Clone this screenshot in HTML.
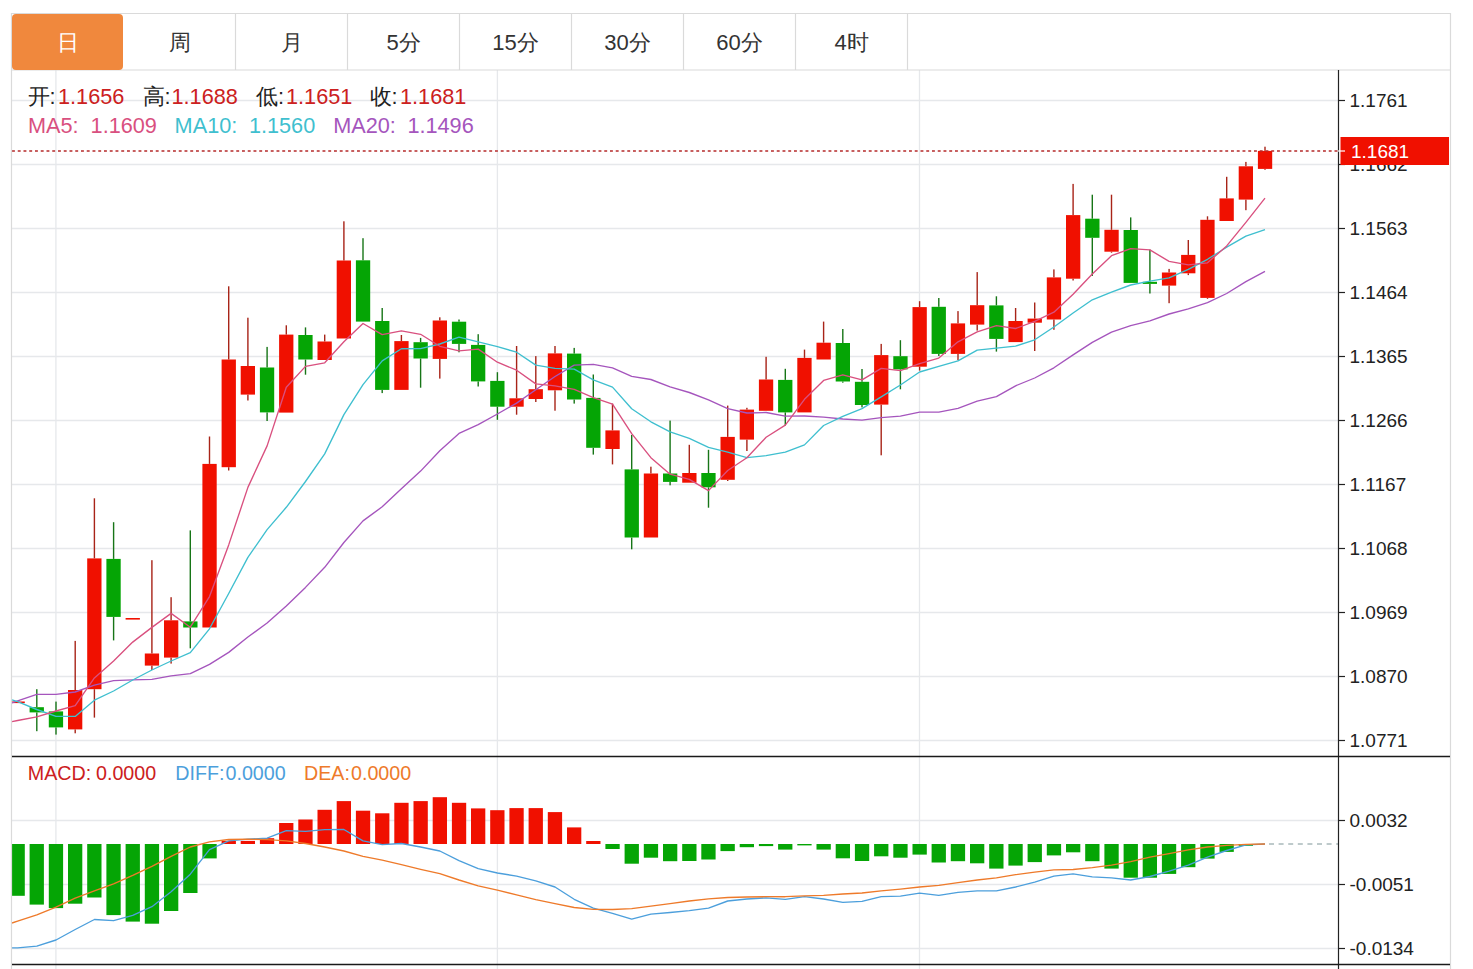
<!DOCTYPE html>
<html><head><meta charset="utf-8"><title>K</title>
<style>
html,body{margin:0;padding:0;background:#fff;width:1473px;height:969px;overflow:hidden}
svg{display:block;font-family:"Liberation Sans", sans-serif}
text{white-space:pre}
</style></head><body>
<svg width="1473" height="969" viewBox="0 0 1473 969">
<line x1="12" y1="100.5" x2="1338" y2="100.5" stroke="#e6e8eb" stroke-width="1.3"/>
<line x1="12" y1="164.5" x2="1338" y2="164.5" stroke="#e6e8eb" stroke-width="1.3"/>
<line x1="12" y1="228.5" x2="1338" y2="228.5" stroke="#e6e8eb" stroke-width="1.3"/>
<line x1="12" y1="292.5" x2="1338" y2="292.5" stroke="#e6e8eb" stroke-width="1.3"/>
<line x1="12" y1="356.5" x2="1338" y2="356.5" stroke="#e6e8eb" stroke-width="1.3"/>
<line x1="12" y1="420.5" x2="1338" y2="420.5" stroke="#e6e8eb" stroke-width="1.3"/>
<line x1="12" y1="484.5" x2="1338" y2="484.5" stroke="#e6e8eb" stroke-width="1.3"/>
<line x1="12" y1="548.5" x2="1338" y2="548.5" stroke="#e6e8eb" stroke-width="1.3"/>
<line x1="12" y1="612.5" x2="1338" y2="612.5" stroke="#e6e8eb" stroke-width="1.3"/>
<line x1="12" y1="676.5" x2="1338" y2="676.5" stroke="#e6e8eb" stroke-width="1.3"/>
<line x1="12" y1="740.5" x2="1338" y2="740.5" stroke="#e6e8eb" stroke-width="1.3"/>
<line x1="12" y1="820.5" x2="1338" y2="820.5" stroke="#e6e8eb" stroke-width="1.3"/>
<line x1="12" y1="884.5" x2="1338" y2="884.5" stroke="#e6e8eb" stroke-width="1.3"/>
<line x1="12" y1="948.5" x2="1338" y2="948.5" stroke="#e6e8eb" stroke-width="1.3"/>
<line x1="55.9" y1="70" x2="55.9" y2="969" stroke="#e6e8eb" stroke-width="1.3"/>
<line x1="497.4" y1="70" x2="497.4" y2="969" stroke="#e6e8eb" stroke-width="1.3"/>
<line x1="919.5" y1="70" x2="919.5" y2="969" stroke="#e6e8eb" stroke-width="1.3"/>
<rect x="12" y="701.5" width="12.8" height="1.6" fill="#f01000"/>
<rect x="36.1" y="689.2" width="1.4" height="18" fill="#177517"/>
<rect x="36.1" y="712.4" width="1.4" height="18.8" fill="#177517"/>
<rect x="29.6" y="707.2" width="14.3" height="5.2" fill="#05a505"/>
<rect x="55.3" y="701.6" width="1.4" height="9.8" fill="#177517"/>
<rect x="55.3" y="727.4" width="1.4" height="7.2" fill="#177517"/>
<rect x="48.8" y="711.4" width="14.3" height="16" fill="#05a505"/>
<rect x="74.5" y="640.9" width="1.4" height="49.1" fill="#a82418"/>
<rect x="74.5" y="729.4" width="1.4" height="3.9" fill="#a82418"/>
<rect x="68" y="690" width="14.3" height="39.4" fill="#f01000"/>
<rect x="93.7" y="498.3" width="1.4" height="60.1" fill="#a82418"/>
<rect x="93.7" y="689.2" width="1.4" height="28.4" fill="#a82418"/>
<rect x="87.2" y="558.4" width="14.3" height="130.8" fill="#f01000"/>
<rect x="112.9" y="522.2" width="1.4" height="36.7" fill="#177517"/>
<rect x="112.9" y="616.9" width="1.4" height="23.5" fill="#177517"/>
<rect x="106.4" y="558.9" width="14.3" height="58" fill="#05a505"/>
<rect x="125.6" y="618" width="14.3" height="1.6" fill="#f01000"/>
<rect x="151.2" y="560.2" width="1.4" height="93.3" fill="#a82418"/>
<rect x="151.2" y="665.6" width="1.4" height="4.4" fill="#a82418"/>
<rect x="144.8" y="653.5" width="14.3" height="12.1" fill="#f01000"/>
<rect x="170.4" y="597.2" width="1.4" height="23.1" fill="#a82418"/>
<rect x="170.4" y="657.6" width="1.4" height="6" fill="#a82418"/>
<rect x="164" y="620.3" width="14.3" height="37.3" fill="#f01000"/>
<rect x="189.6" y="530.4" width="1.4" height="91" fill="#177517"/>
<rect x="189.6" y="627.5" width="1.4" height="20.8" fill="#177517"/>
<rect x="183.2" y="621.4" width="14.3" height="6.1" fill="#05a505"/>
<rect x="208.8" y="436.5" width="1.4" height="27.4" fill="#a82418"/>
<rect x="202.4" y="463.9" width="14.3" height="163.6" fill="#f01000"/>
<rect x="228" y="286.3" width="1.4" height="73.2" fill="#a82418"/>
<rect x="228" y="467.2" width="1.4" height="3.3" fill="#a82418"/>
<rect x="221.6" y="359.5" width="14.3" height="107.7" fill="#f01000"/>
<rect x="247.2" y="317.7" width="1.4" height="48.3" fill="#a82418"/>
<rect x="247.2" y="394.6" width="1.4" height="5.9" fill="#a82418"/>
<rect x="240.7" y="366" width="14.3" height="28.6" fill="#f01000"/>
<rect x="266.4" y="346.9" width="1.4" height="20.6" fill="#177517"/>
<rect x="266.4" y="412.4" width="1.4" height="8.6" fill="#177517"/>
<rect x="259.9" y="367.5" width="14.3" height="44.9" fill="#05a505"/>
<rect x="285.6" y="325.3" width="1.4" height="9.3" fill="#a82418"/>
<rect x="279.1" y="334.6" width="14.3" height="78" fill="#f01000"/>
<rect x="304.8" y="327.4" width="1.4" height="7.6" fill="#177517"/>
<rect x="304.8" y="359.5" width="1.4" height="15.2" fill="#177517"/>
<rect x="298.3" y="335" width="14.3" height="24.5" fill="#05a505"/>
<rect x="324" y="334.6" width="1.4" height="6.9" fill="#a82418"/>
<rect x="317.5" y="341.5" width="14.3" height="18.5" fill="#f01000"/>
<rect x="343.2" y="221.3" width="1.4" height="39.2" fill="#a82418"/>
<rect x="336.7" y="260.5" width="14.3" height="78" fill="#f01000"/>
<rect x="362.3" y="238.2" width="1.4" height="22.1" fill="#177517"/>
<rect x="355.9" y="260.3" width="14.3" height="61.3" fill="#05a505"/>
<rect x="381.5" y="308" width="1.4" height="13" fill="#177517"/>
<rect x="381.5" y="389.9" width="1.4" height="3.2" fill="#177517"/>
<rect x="375.1" y="321" width="14.3" height="68.9" fill="#05a505"/>
<rect x="400.7" y="335" width="1.4" height="6.1" fill="#a82418"/>
<rect x="394.3" y="341.1" width="14.3" height="48.8" fill="#f01000"/>
<rect x="419.9" y="337.9" width="1.4" height="4.3" fill="#177517"/>
<rect x="419.9" y="358.5" width="1.4" height="29.2" fill="#177517"/>
<rect x="413.5" y="342.2" width="14.3" height="16.3" fill="#05a505"/>
<rect x="439.1" y="317.3" width="1.4" height="3.2" fill="#a82418"/>
<rect x="439.1" y="358.9" width="1.4" height="19.7" fill="#a82418"/>
<rect x="432.7" y="320.5" width="14.3" height="38.4" fill="#f01000"/>
<rect x="458.3" y="319.5" width="1.4" height="2.2" fill="#177517"/>
<rect x="458.3" y="343.9" width="1.4" height="8.4" fill="#177517"/>
<rect x="451.9" y="321.7" width="14.3" height="22.2" fill="#05a505"/>
<rect x="477.5" y="334.2" width="1.4" height="10.7" fill="#177517"/>
<rect x="477.5" y="381.4" width="1.4" height="5.1" fill="#177517"/>
<rect x="471" y="344.9" width="14.3" height="36.5" fill="#05a505"/>
<rect x="496.7" y="372.2" width="1.4" height="8.7" fill="#177517"/>
<rect x="496.7" y="406.7" width="1.4" height="13.1" fill="#177517"/>
<rect x="490.2" y="380.9" width="14.3" height="25.8" fill="#05a505"/>
<rect x="515.9" y="346" width="1.4" height="52.3" fill="#a82418"/>
<rect x="515.9" y="406.7" width="1.4" height="8" fill="#a82418"/>
<rect x="509.4" y="398.3" width="14.3" height="8.4" fill="#f01000"/>
<rect x="535.1" y="356.1" width="1.4" height="33.1" fill="#a82418"/>
<rect x="535.1" y="399" width="1.4" height="3" fill="#a82418"/>
<rect x="528.6" y="389.2" width="14.3" height="9.8" fill="#f01000"/>
<rect x="554.3" y="346" width="1.4" height="7.4" fill="#a82418"/>
<rect x="554.3" y="390.3" width="1.4" height="20.4" fill="#a82418"/>
<rect x="547.8" y="353.4" width="14.3" height="36.9" fill="#f01000"/>
<rect x="573.5" y="347.9" width="1.4" height="5.7" fill="#177517"/>
<rect x="573.5" y="399.5" width="1.4" height="4.1" fill="#177517"/>
<rect x="567" y="353.6" width="14.3" height="45.9" fill="#05a505"/>
<rect x="592.6" y="374.5" width="1.4" height="23.4" fill="#177517"/>
<rect x="592.6" y="447.8" width="1.4" height="6.8" fill="#177517"/>
<rect x="586.2" y="397.9" width="14.3" height="49.9" fill="#05a505"/>
<rect x="611.8" y="403.6" width="1.4" height="26.8" fill="#a82418"/>
<rect x="611.8" y="449" width="1.4" height="15.4" fill="#a82418"/>
<rect x="605.4" y="430.4" width="14.3" height="18.6" fill="#f01000"/>
<rect x="631" y="434.9" width="1.4" height="34.5" fill="#177517"/>
<rect x="631" y="537.5" width="1.4" height="11.8" fill="#177517"/>
<rect x="624.6" y="469.4" width="14.3" height="68.1" fill="#05a505"/>
<rect x="650.2" y="466.7" width="1.4" height="6.8" fill="#a82418"/>
<rect x="643.8" y="473.5" width="14.3" height="64" fill="#f01000"/>
<rect x="669.4" y="420.6" width="1.4" height="52.9" fill="#177517"/>
<rect x="669.4" y="481.9" width="1.4" height="3.4" fill="#177517"/>
<rect x="663" y="473.5" width="14.3" height="8.4" fill="#05a505"/>
<rect x="688.6" y="444.8" width="1.4" height="28.2" fill="#a82418"/>
<rect x="682.2" y="473" width="14.3" height="9.7" fill="#f01000"/>
<rect x="707.8" y="449.8" width="1.4" height="23.2" fill="#177517"/>
<rect x="707.8" y="487.3" width="1.4" height="20.4" fill="#177517"/>
<rect x="701.3" y="473" width="14.3" height="14.3" fill="#05a505"/>
<rect x="727" y="405.6" width="1.4" height="31.3" fill="#a82418"/>
<rect x="727" y="479.8" width="1.4" height="1.2" fill="#a82418"/>
<rect x="720.5" y="436.9" width="14.3" height="42.9" fill="#f01000"/>
<rect x="746.2" y="407.8" width="1.4" height="1.8" fill="#a82418"/>
<rect x="746.2" y="439.6" width="1.4" height="11.4" fill="#a82418"/>
<rect x="739.7" y="409.6" width="14.3" height="30" fill="#f01000"/>
<rect x="765.4" y="356.8" width="1.4" height="22.7" fill="#a82418"/>
<rect x="758.9" y="379.5" width="14.3" height="31.3" fill="#f01000"/>
<rect x="784.6" y="368.8" width="1.4" height="11.1" fill="#177517"/>
<rect x="784.6" y="412.4" width="1.4" height="13.1" fill="#177517"/>
<rect x="778.1" y="379.9" width="14.3" height="32.5" fill="#05a505"/>
<rect x="803.8" y="349.6" width="1.4" height="8.3" fill="#a82418"/>
<rect x="797.3" y="357.9" width="14.3" height="54.5" fill="#f01000"/>
<rect x="822.9" y="321.6" width="1.4" height="21.1" fill="#a82418"/>
<rect x="816.5" y="342.7" width="14.3" height="16.8" fill="#f01000"/>
<rect x="842.1" y="329" width="1.4" height="14" fill="#177517"/>
<rect x="842.1" y="381.5" width="1.4" height="1.2" fill="#177517"/>
<rect x="835.7" y="343" width="14.3" height="38.5" fill="#05a505"/>
<rect x="861.3" y="369" width="1.4" height="12.8" fill="#177517"/>
<rect x="861.3" y="405" width="1.4" height="2.4" fill="#177517"/>
<rect x="854.9" y="381.8" width="14.3" height="23.2" fill="#05a505"/>
<rect x="880.5" y="343.9" width="1.4" height="11.2" fill="#a82418"/>
<rect x="880.5" y="404.6" width="1.4" height="50.7" fill="#a82418"/>
<rect x="874.1" y="355.1" width="14.3" height="49.5" fill="#f01000"/>
<rect x="899.7" y="340.2" width="1.4" height="16" fill="#177517"/>
<rect x="899.7" y="369.4" width="1.4" height="19.9" fill="#177517"/>
<rect x="893.3" y="356.2" width="14.3" height="13.2" fill="#05a505"/>
<rect x="918.9" y="301.2" width="1.4" height="5.9" fill="#a82418"/>
<rect x="918.9" y="366.7" width="1.4" height="3.9" fill="#a82418"/>
<rect x="912.5" y="307.1" width="14.3" height="59.6" fill="#f01000"/>
<rect x="938.1" y="298" width="1.4" height="8.8" fill="#177517"/>
<rect x="938.1" y="353.9" width="1.4" height="2.1" fill="#177517"/>
<rect x="931.6" y="306.8" width="14.3" height="47.1" fill="#05a505"/>
<rect x="957.3" y="311.1" width="1.4" height="12.3" fill="#a82418"/>
<rect x="957.3" y="353.9" width="1.4" height="6.4" fill="#a82418"/>
<rect x="950.8" y="323.4" width="14.3" height="30.5" fill="#f01000"/>
<rect x="976.5" y="272.1" width="1.4" height="33.1" fill="#a82418"/>
<rect x="976.5" y="324.6" width="1.4" height="6" fill="#a82418"/>
<rect x="970" y="305.2" width="14.3" height="19.4" fill="#f01000"/>
<rect x="995.7" y="296.3" width="1.4" height="9.1" fill="#177517"/>
<rect x="995.7" y="338.9" width="1.4" height="12.7" fill="#177517"/>
<rect x="989.2" y="305.4" width="14.3" height="33.5" fill="#05a505"/>
<rect x="1014.9" y="308" width="1.4" height="13" fill="#a82418"/>
<rect x="1008.4" y="321" width="14.3" height="21.1" fill="#f01000"/>
<rect x="1034" y="302.5" width="1.4" height="16.1" fill="#a82418"/>
<rect x="1034" y="322.7" width="1.4" height="28.3" fill="#a82418"/>
<rect x="1027.6" y="318.6" width="14.3" height="4.1" fill="#f01000"/>
<rect x="1053.2" y="269.4" width="1.4" height="8" fill="#a82418"/>
<rect x="1053.2" y="319.5" width="1.4" height="10.3" fill="#a82418"/>
<rect x="1046.8" y="277.4" width="14.3" height="42.1" fill="#f01000"/>
<rect x="1072.4" y="183.9" width="1.4" height="31.2" fill="#a82418"/>
<rect x="1072.4" y="278.7" width="1.4" height="1.8" fill="#a82418"/>
<rect x="1066" y="215.1" width="14.3" height="63.6" fill="#f01000"/>
<rect x="1091.6" y="194.7" width="1.4" height="24" fill="#177517"/>
<rect x="1091.6" y="237.8" width="1.4" height="38.1" fill="#177517"/>
<rect x="1085.2" y="218.7" width="14.3" height="19.1" fill="#05a505"/>
<rect x="1110.8" y="194.7" width="1.4" height="35.1" fill="#a82418"/>
<rect x="1110.8" y="251.7" width="1.4" height="1" fill="#a82418"/>
<rect x="1104.4" y="229.8" width="14.3" height="21.9" fill="#f01000"/>
<rect x="1130" y="217.4" width="1.4" height="12.6" fill="#177517"/>
<rect x="1123.6" y="230" width="14.3" height="52.9" fill="#05a505"/>
<rect x="1149.2" y="249.6" width="1.4" height="32.2" fill="#177517"/>
<rect x="1149.2" y="283.9" width="1.4" height="9.6" fill="#177517"/>
<rect x="1142.7" y="281.8" width="14.3" height="2.1" fill="#05a505"/>
<rect x="1168.4" y="268.9" width="1.4" height="3.6" fill="#a82418"/>
<rect x="1168.4" y="285.6" width="1.4" height="17.6" fill="#a82418"/>
<rect x="1161.9" y="272.5" width="14.3" height="13.1" fill="#f01000"/>
<rect x="1187.6" y="240" width="1.4" height="14.9" fill="#a82418"/>
<rect x="1187.6" y="273.3" width="1.4" height="1.8" fill="#a82418"/>
<rect x="1181.1" y="254.9" width="14.3" height="18.4" fill="#f01000"/>
<rect x="1206.8" y="216.3" width="1.4" height="3.5" fill="#a82418"/>
<rect x="1206.8" y="297.9" width="1.4" height="0.9" fill="#a82418"/>
<rect x="1200.3" y="219.8" width="14.3" height="78.1" fill="#f01000"/>
<rect x="1226" y="176.8" width="1.4" height="21.6" fill="#a82418"/>
<rect x="1219.5" y="198.4" width="14.3" height="22.6" fill="#f01000"/>
<rect x="1245.2" y="161.9" width="1.4" height="4.4" fill="#a82418"/>
<rect x="1245.2" y="199.6" width="1.4" height="10.6" fill="#a82418"/>
<rect x="1238.7" y="166.3" width="14.3" height="33.3" fill="#f01000"/>
<rect x="1264.3" y="146.7" width="1.4" height="4.2" fill="#a82418"/>
<rect x="1264.3" y="168.9" width="1.4" height="0.9" fill="#a82418"/>
<rect x="1257.9" y="150.9" width="14.3" height="18" fill="#f01000"/>
<polyline points="12,702.9 17.6,700.9 36.8,694.4 56,694.4 75.2,692 94.4,685.1 113.6,680.7 132.7,679.9 151.9,679.3 171.1,675.8 190.3,673.7 209.5,664.4 228.7,652.4 247.9,637 267.1,623 286.3,606 305.5,587.4 324.7,567.3 343.9,542.5 363,520.9 382.2,506.8 401.4,488.7 420.6,471.1 439.8,450.7 459,433.4 478.2,424.6 497.4,414 516.6,403.1 535.8,389.8 555,376.5 574.2,365.1 593.3,364.3 612.5,367.8 631.7,376.4 650.9,379.5 670.1,386.8 689.3,392.5 708.5,399.8 727.7,408.6 746.9,413 766.1,412.5 785.3,416.1 804.5,416 823.6,417.1 842.8,419 862,420.2 881.2,417.6 900.4,416.2 919.6,412.1 938.8,412.1 958,408.3 977.2,401.2 996.4,396.6 1015.6,385.8 1034.7,378 1053.9,367.8 1073.1,354.9 1092.3,342.4 1111.5,332.1 1130.7,325.7 1149.9,320.9 1169.1,314 1188.3,308.8 1207.5,302.7 1226.7,293.5 1245.9,281.6 1265,271.4" fill="none" stroke="#a555bd" stroke-width="1.35" stroke-linejoin="round"/>
<polyline points="12,699.8 17.6,701.7 36.8,709.5 56,716.4 75.2,716.4 94.4,700.2 113.6,691 132.7,680 151.9,670 171.1,661 190.3,652.6 209.5,628.8 228.7,593.5 247.9,557.4 267.1,529.6 286.3,507.3 305.5,481.5 324.7,453.9 343.9,414.6 363,384.7 382.2,360.9 401.4,348.7 420.6,348.6 439.8,344 459,337.2 478.2,341.8 497.4,346.6 516.6,352.2 535.8,365.1 555,368.3 574.2,369.2 593.3,379.9 612.5,387.1 631.7,408.8 650.9,421.8 670.1,431.8 689.3,438.4 708.5,447.4 727.7,452.1 746.9,457.7 766.1,455.7 785.3,452.2 804.5,444.9 823.6,425.5 842.8,416.3 862,408.6 881.2,396.8 900.4,385 919.6,372 938.8,366.4 958,360.8 977.2,350.1 996.4,348.2 1015.6,346.1 1034.7,339.8 1053.9,327 1073.1,313 1092.3,299.8 1111.5,292.1 1130.7,285 1149.9,281.1 1169.1,277.8 1188.3,269.4 1207.5,259.3 1226.7,247.2 1245.9,236.1 1265,229.7" fill="none" stroke="#3fbfcf" stroke-width="1.35" stroke-linejoin="round"/>
<polyline points="12,721.7 17.6,720.5 36.8,716.8 56,711 75.2,705.6 94.4,677.9 113.6,661 132.7,642.1 151.9,627.4 171.1,613.4 190.3,627.2 209.5,596.6 228.7,544.9 247.9,487.4 267.1,445.9 286.3,387.3 305.5,366.4 324.7,362.8 343.9,341.7 363,323.5 382.2,334.6 401.4,330.9 420.6,334.3 439.8,346.3 459,350.8 478.2,349.1 497.4,362.2 516.6,370.2 535.8,383.9 555,385.8 574.2,389.4 593.3,397.6 612.5,404.1 631.7,433.7 650.9,457.7 670.1,474.2 689.3,479.3 708.5,490.6 727.7,470.5 746.9,457.7 766.1,437.3 785.3,425.1 804.5,399.3 823.6,380.4 842.8,374.8 862,379.9 881.2,368.4 900.4,370.7 919.6,363.6 938.8,358.1 958,341.8 977.2,331.8 996.4,325.7 1015.6,328.5 1034.7,321.4 1053.9,312.2 1073.1,294.2 1092.3,274 1111.5,255.7 1130.7,248.6 1149.9,249.9 1169.1,261.4 1188.3,264.8 1207.5,262.8 1226.7,245.9 1245.9,222.4 1265,198.1" fill="none" stroke="#d9507f" stroke-width="1.35" stroke-linejoin="round"/>
<line x1="12" y1="151" x2="1338" y2="151" stroke="#b52a2a" stroke-width="1.6" stroke-dasharray="2.9 2.85"/>
<rect x="12" y="844" width="12.8" height="51.8" fill="#05a505"/>
<rect x="29.6" y="844" width="14.3" height="60.6" fill="#05a505"/>
<rect x="48.8" y="844" width="14.3" height="64.1" fill="#05a505"/>
<rect x="68" y="844" width="14.3" height="59.7" fill="#05a505"/>
<rect x="87.2" y="844" width="14.3" height="53.5" fill="#05a505"/>
<rect x="106.4" y="844" width="14.3" height="71.1" fill="#05a505"/>
<rect x="125.6" y="844" width="14.3" height="77.6" fill="#05a505"/>
<rect x="144.8" y="844" width="14.3" height="79.7" fill="#05a505"/>
<rect x="164" y="844" width="14.3" height="67" fill="#05a505"/>
<rect x="183.2" y="844" width="14.3" height="49" fill="#05a505"/>
<rect x="202.4" y="844" width="14.3" height="14.4" fill="#05a505"/>
<rect x="221.6" y="840.9" width="14.3" height="3.1" fill="#f01000"/>
<rect x="240.7" y="840.9" width="14.3" height="3.1" fill="#f01000"/>
<rect x="259.9" y="838.2" width="14.3" height="5.8" fill="#f01000"/>
<rect x="279.1" y="823" width="14.3" height="21" fill="#f01000"/>
<rect x="298.3" y="819.5" width="14.3" height="24.5" fill="#f01000"/>
<rect x="317.5" y="809.8" width="14.3" height="34.2" fill="#f01000"/>
<rect x="336.7" y="801.1" width="14.3" height="42.9" fill="#f01000"/>
<rect x="355.9" y="810.7" width="14.3" height="33.3" fill="#f01000"/>
<rect x="375.1" y="813.3" width="14.3" height="30.7" fill="#f01000"/>
<rect x="394.3" y="802.8" width="14.3" height="41.2" fill="#f01000"/>
<rect x="413.5" y="801.1" width="14.3" height="42.9" fill="#f01000"/>
<rect x="432.7" y="797.2" width="14.3" height="46.8" fill="#f01000"/>
<rect x="451.9" y="802.8" width="14.3" height="41.2" fill="#f01000"/>
<rect x="471" y="808.4" width="14.3" height="35.6" fill="#f01000"/>
<rect x="490.2" y="810.2" width="14.3" height="33.8" fill="#f01000"/>
<rect x="509.4" y="808.1" width="14.3" height="35.9" fill="#f01000"/>
<rect x="528.6" y="808.1" width="14.3" height="35.9" fill="#f01000"/>
<rect x="547.8" y="812.1" width="14.3" height="31.9" fill="#f01000"/>
<rect x="567" y="827.4" width="14.3" height="16.6" fill="#f01000"/>
<rect x="586.2" y="841" width="14.3" height="3" fill="#f01000"/>
<rect x="605.4" y="844" width="14.3" height="5" fill="#05a505"/>
<rect x="624.6" y="844" width="14.3" height="19.7" fill="#05a505"/>
<rect x="643.8" y="844" width="14.3" height="13.7" fill="#05a505"/>
<rect x="663" y="844" width="14.3" height="17.2" fill="#05a505"/>
<rect x="682.2" y="844" width="14.3" height="17" fill="#05a505"/>
<rect x="701.3" y="844" width="14.3" height="15.5" fill="#05a505"/>
<rect x="720.5" y="844" width="14.3" height="7.1" fill="#05a505"/>
<rect x="739.7" y="844" width="14.3" height="3.2" fill="#05a505"/>
<rect x="758.9" y="844" width="14.3" height="2.1" fill="#05a505"/>
<rect x="778.1" y="844" width="14.3" height="5.6" fill="#05a505"/>
<rect x="797.3" y="844" width="14.3" height="1.4" fill="#05a505"/>
<rect x="816.5" y="844" width="14.3" height="5.6" fill="#05a505"/>
<rect x="835.7" y="844" width="14.3" height="14.3" fill="#05a505"/>
<rect x="854.9" y="844" width="14.3" height="17" fill="#05a505"/>
<rect x="874.1" y="844" width="14.3" height="12.3" fill="#05a505"/>
<rect x="893.3" y="844" width="14.3" height="13.7" fill="#05a505"/>
<rect x="912.5" y="844" width="14.3" height="10.6" fill="#05a505"/>
<rect x="931.6" y="844" width="14.3" height="18.5" fill="#05a505"/>
<rect x="950.8" y="844" width="14.3" height="17.2" fill="#05a505"/>
<rect x="970" y="844" width="14.3" height="19.3" fill="#05a505"/>
<rect x="989.2" y="844" width="14.3" height="24.6" fill="#05a505"/>
<rect x="1008.4" y="844" width="14.3" height="21.6" fill="#05a505"/>
<rect x="1027.6" y="844" width="14.3" height="18.1" fill="#05a505"/>
<rect x="1046.8" y="844" width="14.3" height="11.4" fill="#05a505"/>
<rect x="1066" y="844" width="14.3" height="8.3" fill="#05a505"/>
<rect x="1085.2" y="844" width="14.3" height="17.2" fill="#05a505"/>
<rect x="1104.4" y="844" width="14.3" height="24.6" fill="#05a505"/>
<rect x="1123.6" y="844" width="14.3" height="33.7" fill="#05a505"/>
<rect x="1142.7" y="844" width="14.3" height="33.7" fill="#05a505"/>
<rect x="1161.9" y="844" width="14.3" height="29.9" fill="#05a505"/>
<rect x="1181.1" y="844" width="14.3" height="23.2" fill="#05a505"/>
<rect x="1200.3" y="844" width="14.3" height="14.6" fill="#05a505"/>
<rect x="1219.5" y="844" width="14.3" height="7.9" fill="#05a505"/>
<rect x="1238.7" y="844" width="14.3" height="1.8" fill="#05a505"/>
<polyline points="12,947.9 17.6,947.9 36.8,946.1 56,940 75.2,929.5 94.4,919.5 113.6,920.7 132.7,915.4 151.9,906.7 171.1,891.8 190.3,874.2 209.5,849.6 228.7,840.9 247.9,839.1 267.1,838.2 286.3,830.7 305.5,831.4 324.7,829.6 343.9,829.5 363,840.9 382.2,844.7 401.4,843.5 420.6,847 439.8,851 459,860.7 478.2,868.6 497.4,873 516.6,876.1 535.8,880.9 555,887 574.2,899.3 593.3,908.1 612.5,913.3 631.7,919.1 650.9,914.2 670.1,912.5 689.3,910.7 708.5,908.1 727.7,901 746.9,899 766.1,897.9 785.3,899.3 804.5,896.7 823.6,899 842.8,902.3 862,901.4 881.2,896.7 900.4,896.1 919.6,893.2 938.8,895.3 958,892.3 977.2,890.9 996.4,890.9 1015.6,887 1034.7,882.1 1053.9,876.1 1073.1,873.9 1092.3,876.8 1111.5,877.9 1130.7,880 1149.9,876.5 1169.1,871.2 1188.3,865.1 1207.5,857.2 1226.7,850.5 1245.9,844.9 1265,844" fill="none" stroke="#4c9fdc" stroke-width="1.35" stroke-linejoin="round"/>
<polyline points="12,923 17.6,921.2 36.8,914.9 56,907.2 75.2,898.2 94.4,890.9 113.6,883.9 132.7,875.4 151.9,866.3 171.1,856.3 190.3,847 209.5,841.8 228.7,839.5 247.9,839.1 267.1,839.6 286.3,840.9 305.5,843.5 324.7,847 343.9,851 363,856.3 382.2,860.2 401.4,864.6 420.6,869.3 439.8,873.6 459,880 478.2,885.8 497.4,890.2 516.6,894.9 535.8,899.6 555,903.7 574.2,907.5 593.3,909.3 612.5,909.5 631.7,908.6 650.9,906.1 670.1,903.7 689.3,901 708.5,898.8 727.7,897.5 746.9,897 766.1,896.7 785.3,896.7 804.5,895.8 823.6,895.4 842.8,894 862,893 881.2,890.9 900.4,889.1 919.6,887 938.8,885.3 958,882.6 977.2,880 996.4,877.9 1015.6,874.7 1034.7,872.1 1053.9,869.8 1073.1,869.5 1092.3,867.7 1111.5,865.1 1130.7,861.6 1149.9,857.2 1169.1,853.7 1188.3,849.8 1207.5,847 1226.7,845.3 1245.9,844.4 1265,844" fill="none" stroke="#ee7a2a" stroke-width="1.35" stroke-linejoin="round"/>
<line x1="1269" y1="843.9" x2="1338" y2="843.9" stroke="#a9b9bb" stroke-width="1.5" stroke-dasharray="5 4.6"/>
<line x1="11.5" y1="13" x2="11.5" y2="969" stroke="#dadada" stroke-width="1.2"/>
<line x1="1450.5" y1="13" x2="1450.5" y2="969" stroke="#dadada" stroke-width="1.2"/>
<line x1="12" y1="13.5" x2="1450" y2="13.5" stroke="#dadada" stroke-width="1.2"/>
<line x1="12" y1="70" x2="1450" y2="70" stroke="#dadada" stroke-width="1.2"/>
<line x1="235.5" y1="14" x2="235.5" y2="70" stroke="#dadada" stroke-width="1.2"/>
<line x1="347.5" y1="14" x2="347.5" y2="70" stroke="#dadada" stroke-width="1.2"/>
<line x1="459.5" y1="14" x2="459.5" y2="70" stroke="#dadada" stroke-width="1.2"/>
<line x1="571.5" y1="14" x2="571.5" y2="70" stroke="#dadada" stroke-width="1.2"/>
<line x1="683.5" y1="14" x2="683.5" y2="70" stroke="#dadada" stroke-width="1.2"/>
<line x1="795.5" y1="14" x2="795.5" y2="70" stroke="#dadada" stroke-width="1.2"/>
<line x1="907.5" y1="14" x2="907.5" y2="70" stroke="#dadada" stroke-width="1.2"/>
<rect x="12" y="14" width="111" height="56" rx="4" ry="4" fill="#f0883d"/>
<text x="67.5" y="50.3" text-anchor="middle" font-size="22" fill="#ffffff">日</text>
<text x="179.5" y="50.3" text-anchor="middle" font-size="22" fill="#333333">周</text>
<text x="291.5" y="50.3" text-anchor="middle" font-size="22" fill="#333333">月</text>
<text x="403.5" y="50.3" text-anchor="middle" font-size="22" fill="#333333">5分</text>
<text x="515.5" y="50.3" text-anchor="middle" font-size="22" fill="#333333">15分</text>
<text x="627.5" y="50.3" text-anchor="middle" font-size="22" fill="#333333">30分</text>
<text x="739.5" y="50.3" text-anchor="middle" font-size="22" fill="#333333">60分</text>
<text x="851.5" y="50.3" text-anchor="middle" font-size="22" fill="#333333">4时</text>
<line x1="1338.5" y1="70" x2="1338.5" y2="969" stroke="#222" stroke-width="1.2"/>
<line x1="12" y1="756.5" x2="1450" y2="756.5" stroke="#1a1a1a" stroke-width="1.3"/>
<line x1="12" y1="964.5" x2="1450" y2="964.5" stroke="#1a1a1a" stroke-width="1.3"/>
<line x1="1338" y1="100.5" x2="1345" y2="100.5" stroke="#222" stroke-width="1.2"/>
<text x="1349.5" y="107" font-size="19" fill="#222">1.1761</text>
<line x1="1338" y1="164.5" x2="1345" y2="164.5" stroke="#222" stroke-width="1.2"/>
<text x="1349.5" y="171" font-size="19" fill="#222">1.1662</text>
<line x1="1338" y1="228.5" x2="1345" y2="228.5" stroke="#222" stroke-width="1.2"/>
<text x="1349.5" y="235" font-size="19" fill="#222">1.1563</text>
<line x1="1338" y1="292.5" x2="1345" y2="292.5" stroke="#222" stroke-width="1.2"/>
<text x="1349.5" y="299" font-size="19" fill="#222">1.1464</text>
<line x1="1338" y1="356.5" x2="1345" y2="356.5" stroke="#222" stroke-width="1.2"/>
<text x="1349.5" y="363" font-size="19" fill="#222">1.1365</text>
<line x1="1338" y1="420.5" x2="1345" y2="420.5" stroke="#222" stroke-width="1.2"/>
<text x="1349.5" y="427" font-size="19" fill="#222">1.1266</text>
<line x1="1338" y1="484.5" x2="1345" y2="484.5" stroke="#222" stroke-width="1.2"/>
<text x="1349.5" y="491" font-size="19" fill="#222">1.1167</text>
<line x1="1338" y1="548.5" x2="1345" y2="548.5" stroke="#222" stroke-width="1.2"/>
<text x="1349.5" y="555" font-size="19" fill="#222">1.1068</text>
<line x1="1338" y1="612.5" x2="1345" y2="612.5" stroke="#222" stroke-width="1.2"/>
<text x="1349.5" y="619" font-size="19" fill="#222">1.0969</text>
<line x1="1338" y1="676.5" x2="1345" y2="676.5" stroke="#222" stroke-width="1.2"/>
<text x="1349.5" y="683" font-size="19" fill="#222">1.0870</text>
<line x1="1338" y1="740.5" x2="1345" y2="740.5" stroke="#222" stroke-width="1.2"/>
<text x="1349.5" y="747" font-size="19" fill="#222">1.0771</text>
<line x1="1338" y1="820.5" x2="1345" y2="820.5" stroke="#222" stroke-width="1.2"/>
<text x="1349.5" y="827" font-size="19" fill="#222">0.0032</text>
<line x1="1338" y1="884.5" x2="1345" y2="884.5" stroke="#222" stroke-width="1.2"/>
<text x="1349.5" y="891" font-size="19" fill="#222">-0.0051</text>
<line x1="1338" y1="948.5" x2="1345" y2="948.5" stroke="#222" stroke-width="1.2"/>
<text x="1349.5" y="955" font-size="19" fill="#222">-0.0134</text>
<rect x="1340.5" y="137" width="108.5" height="28" fill="#f01000"/>
<line x1="1338" y1="151" x2="1345" y2="151" stroke="#fff" stroke-width="1.2"/>
<text x="1351" y="158" font-size="19" fill="#ffffff">1.1681</text>
<text x="27.5" y="103.8" font-size="21.7" fill="#222" text-anchor="start">开:</text>
<text x="58.0" y="103.8" font-size="21.7" fill="#cc2020" text-anchor="start">1.1656</text>
<text x="142.5" y="103.8" font-size="21.7" fill="#222" text-anchor="start">高:</text>
<text x="171.5" y="103.8" font-size="21.7" fill="#cc2020" text-anchor="start">1.1688</text>
<text x="256.0" y="103.8" font-size="21.7" fill="#222" text-anchor="start">低:</text>
<text x="286.0" y="103.8" font-size="21.7" fill="#cc2020" text-anchor="start">1.1651</text>
<text x="369.5" y="103.8" font-size="21.7" fill="#222" text-anchor="start">收:</text>
<text x="400.0" y="103.8" font-size="21.7" fill="#cc2020" text-anchor="start">1.1681</text>
<text x="28.0" y="132.8" font-size="21.7" fill="#d9507f" text-anchor="start">MA5:</text>
<text x="90.6" y="132.8" font-size="21.7" fill="#d9507f" text-anchor="start">1.1609</text>
<text x="174.6" y="132.8" font-size="21.7" fill="#3fbfcf" text-anchor="start">MA10:</text>
<text x="248.9" y="132.8" font-size="21.7" fill="#3fbfcf" text-anchor="start">1.1560</text>
<text x="333.2" y="132.8" font-size="21.7" fill="#a555bd" text-anchor="start">MA20:</text>
<text x="407.4" y="132.8" font-size="21.7" fill="#a555bd" text-anchor="start">1.1496</text>
<text x="27.8" y="780.2" font-size="19.7" fill="#cc2020" text-anchor="start">MACD:</text>
<text x="96.0" y="780.2" font-size="19.7" fill="#cc2020" text-anchor="start">0.0000</text>
<text x="175.3" y="780.2" font-size="19.7" fill="#4c9fdc" text-anchor="start">DIFF:</text>
<text x="225.5" y="780.2" font-size="19.7" fill="#4c9fdc" text-anchor="start">0.0000</text>
<text x="304.0" y="780.2" font-size="19.7" fill="#ee7a2a" text-anchor="start">DEA:</text>
<text x="351.0" y="780.2" font-size="19.7" fill="#ee7a2a" text-anchor="start">0.0000</text>
</svg>
</body></html>
